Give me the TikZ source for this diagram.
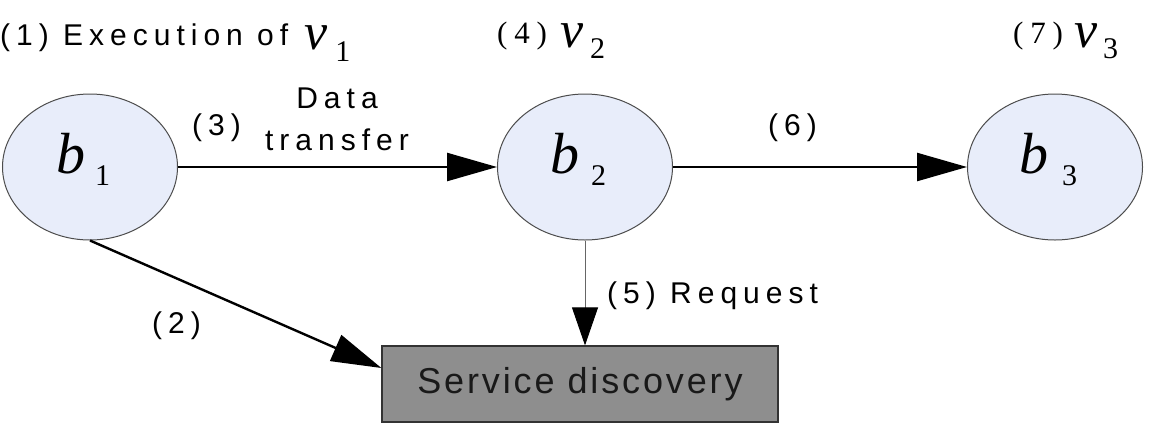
\documentclass[tikz,border=0pt]{standalone}
\usepackage{fontspec}
\setmainfont{Liberation Sans}
\newfontfamily\timesfont{Liberation Serif}
\usetikzlibrary{shapes.geometric,arrows.meta}
\definecolor{blockfill}{RGB}{232,237,250}
\definecolor{sdfill}{RGB}{142,142,142}
% symbol with a widely set subscript
\newcommand{\subsym}[6]{{\timesfont\itshape\fontsize{#3}{#3}\selectfont #1}\kern#5\raisebox{-#6}{\timesfont\fontsize{#4}{#4}\selectfont #2}}

\begin{document}
\begin{tikzpicture}[x=1pt,y=-1pt,
    block/.style={ellipse, draw=black!70, fill=blockfill, line width=1pt,
      minimum width=175pt, minimum height=146pt, inner sep=0pt,
      execute at begin node={\rule[-28pt]{0pt}{28pt}},
      execute at end node={\kern14pt}},
    sdbox/.style={rectangle, draw=black!80, fill=sdfill, line width=1.2pt,
      minimum width=396pt, minimum height=76pt, inner sep=0pt, text=black!90,
      font=\fontsize{36}{40}\selectfont\addfontfeature{LetterSpace=8}},
    flow/.style={line width=2.4pt, -{Triangle[length=50pt,width=28pt]}},
    req/.style={line width=0.9pt, draw=black!60, -{Triangle[length=38pt,width=26pt,color=black]}},
    lbl/.style={inner sep=0pt, text=black, font=\fontsize{30}{42}\selectfont\addfontfeature{LetterSpace=20}},
    serif/.style={inner sep=0pt, font=\timesfont\fontsize{31}{36}\selectfont\addfontfeature{LetterSpace=22}}]
	\useasboundingbox (0,0) rectangle (1158,426);
	% blocks
	\node[block] (b1) at (90,167) {\subsym{b}{1}{58}{30}{10pt}{12pt}};
	\node[block] (b2) at (585,167) {\subsym{b}{2}{58}{30}{12pt}{12pt}};
	\node[block] (b3) at (1055,167) {\subsym{b}{3}{58}{30}{14pt}{12pt}};
	\node[sdbox] (sd) at (580,384) {Service discovery};
	% steps
	\node[lbl, anchor=base west] (step1) at (0,45) {(1) Execution of\kern16pt\raisebox{-4pt}{\subsym{v}{1}{52}{30}{8pt}{12pt}}};
	\node[serif, anchor=base west] (step4) at (497,43) {(4)\kern14pt\raisebox{-4pt}{\subsym{v}{2}{52}{30}{6pt}{11pt}}};
	\node[serif, anchor=base west] (step7) at (1013,43) {(7)\kern11pt\raisebox{-4pt}{\subsym{v}{3}{52}{30}{6pt}{11pt}}};
	\node[lbl, anchor=base west] (step3) at (192,135) {(3)};
	\node[lbl, align=center] (data) at (337,119) {Data\\transfer};
	\node[lbl, anchor=base west] (step6) at (768,135) {(6)};
	\node[lbl, anchor=base west] (step2) at (152,333) {(2)};
	\node[lbl, anchor=base west] (step5) at (607,303) {(5) Request};
	% connectors
	\draw[flow] (b1) -- (b2);
	\draw[flow] (b2) -- (b3);
	\draw[flow] (b1.south) -- ([yshift=16pt]sd.west);
	\draw[req] (b2.south) -- (b2.south |- sd.north);
\end{tikzpicture}
\end{document}
